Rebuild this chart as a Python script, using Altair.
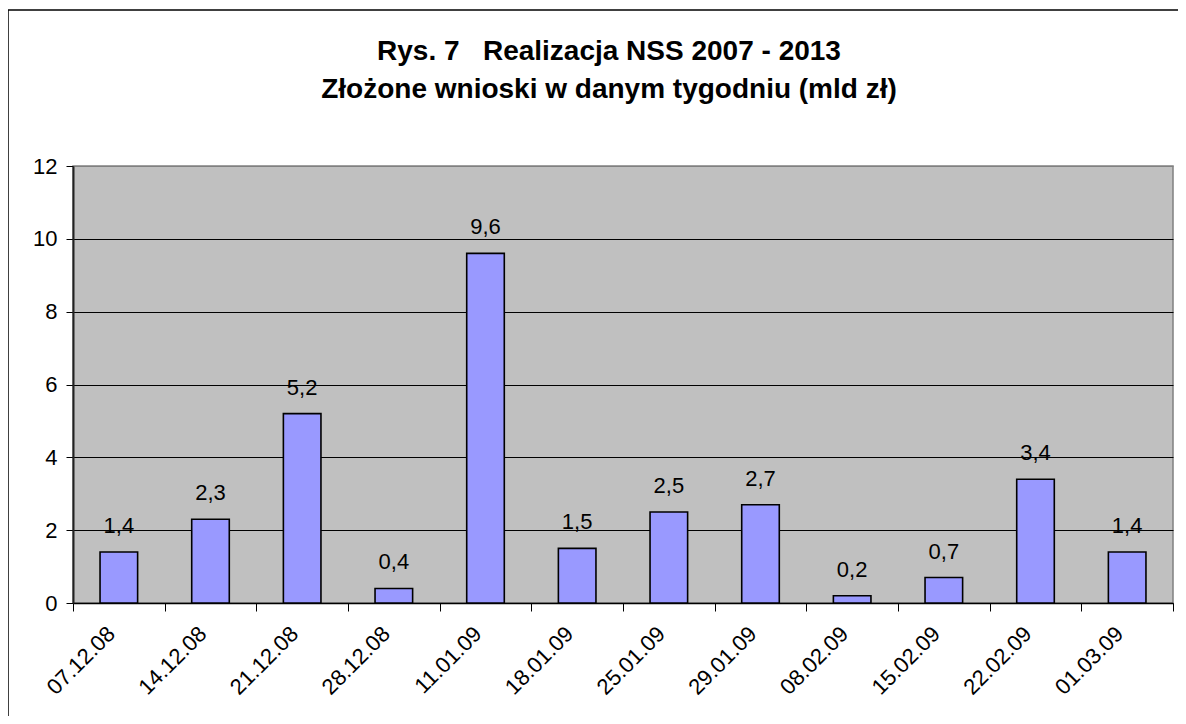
import altair as alt
import pandas as pd

dates = ["07.12.08", "14.12.08", "21.12.08", "28.12.08", "11.01.09", "18.01.09",
         "25.01.09", "29.01.09", "08.02.09", "15.02.09", "22.02.09", "01.03.09"]
values = [1.4, 2.3, 5.2, 0.4, 9.6, 1.5, 2.5, 2.7, 0.2, 0.7, 3.4, 1.4]
labels = [f"{v:.1f}".replace(".", ",") for v in values]

df = pd.DataFrame({"date": dates, "value": values, "label": labels})

FONT = "Liberation Sans"

x = alt.X("date:N", sort=None, title=None,
          scale=alt.Scale(paddingInner=0, paddingOuter=0),
          axis=alt.Axis(tickBand="extent", labelAngle=-45, labelAlign="right",
                        labelBaseline="middle", labelPadding=19, labelOffset=-8,
                        tickSize=8, tickColor="black", domainColor="black",
                        domainWidth=1.5, labelFontSize=22, labelColor="black",
                        labelFont=FONT, grid=False))
y = alt.Y("value:Q", title=None,
          scale=alt.Scale(domain=[0, 12], nice=False),
          axis=alt.Axis(values=[0, 2, 4, 6, 8, 10, 12], tickSize=7, tickColor="black",
                        domainColor="#222222", domainWidth=2, labelFontSize=22,
                        labelColor="black", labelFont=FONT, labelPadding=9,
                        grid=True, gridColor={"condition": {"test": "datum.value === 12", "value": "#808080"}, "value": "black"},
                        gridWidth=1))

bars = alt.Chart(df).mark_bar(color="#9999FF", stroke="black", strokeWidth=1.6,
                              width=alt.RelativeBandSize(0.41)).encode(x=x, y=y)

text = alt.Chart(df).mark_text(baseline="alphabetic", dy=-19, fontSize=22,
                               font=FONT, color="black").encode(
    x=alt.X("date:N", sort=None), y="value:Q", text="label:N")

border_left = alt.Chart(alt.Data(values=[{}])).mark_rule(
    color="black", strokeWidth=1.5, clip=False).encode(
    x=alt.value(-65), y=alt.value(-156), y2=alt.value(900))
border_top = alt.Chart(alt.Data(values=[{}])).mark_rule(
    color="black", strokeWidth=1.5, clip=False).encode(
    x=alt.value(-65), x2=alt.value(1300), y=alt.value(-156))

chart = alt.layer(bars, text, border_left, border_top).properties(
    width=1100, height=437,
    title=alt.TitleParams(
        text=["Rys. 7\u00a0\u00a0 Realizacja NSS 2007 - 2013",
              "Złożone wnioski w danym tygodniu (mld zł)"],
        fontSize=28, font=FONT, fontWeight="bold", color="black",
        lineHeight=38, anchor="middle", frame="group", offset=-95, dx=-14),
    autosize=alt.AutoSizeParams(type="none"),
    padding={"left": 65, "top": 158, "right": 5, "bottom": 113},
).configure_view(fill="#C0C0C0", stroke="#808080", strokeWidth=1.5)

chart.save("out.html", embed_options={"renderer": "svg", "actions": False})
